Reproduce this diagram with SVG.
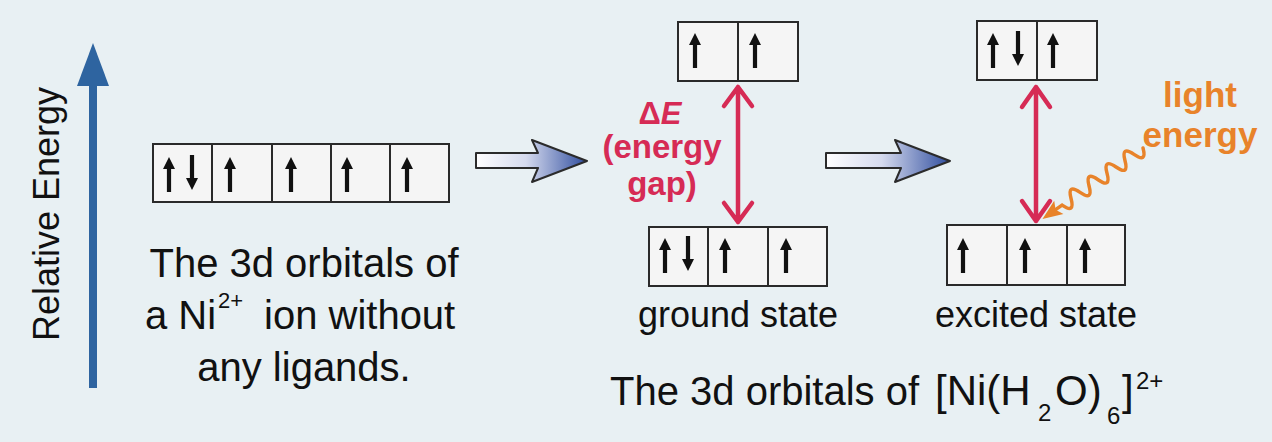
<svg xmlns="http://www.w3.org/2000/svg" xmlns:xlink="http://www.w3.org/1999/xlink" width="1272" height="442" viewBox="0 0 1272 442">
<style>
.box{fill:#f5f5f5;stroke:#2a2a2a;stroke-width:2}
.div{stroke:#2a2a2a;stroke-width:2}
.e{fill:#111}
.txt{font-family:"Liberation Sans",Arial,sans-serif;fill:#111}
.red{fill:#d62b55;font-family:"Liberation Sans",Arial,sans-serif;font-weight:bold}
.org{fill:#e8832a;font-family:"Liberation Sans",Arial,sans-serif;font-weight:bold}
.gap{fill:none;stroke:#d62b55;stroke-width:4.5;stroke-linecap:round;stroke-linejoin:round}
.blk{stroke:#2b2b2b;stroke-width:2;stroke-linejoin:round;fill:url(#bg)}
</style>
<defs>
<linearGradient id="bg" x1="0" y1="0" x2="1" y2="0">
<stop offset="0" stop-color="#ffffff"/>
<stop offset="0.45" stop-color="#d5daee"/>
<stop offset="1" stop-color="#2f4d9e"/>
</linearGradient>
<path id="up" class="e" d="M0,0 L6,12 L2.1,12 L2.1,35 L-2.1,35 L-2.1,12 L-6,12 Z"/>
<path id="dn" class="e" d="M-2.1,0 L2.1,0 L2.1,23 L6,23 L0,35 L-6,23 L-2.1,23 Z"/>
</defs>
<rect x="0" y="0" width="1272" height="442" fill="#e8f0f3"/>

<g id="energy-axis">
<rect x="89" y="82" width="8" height="306" fill="#2e64a0"/>
<polygon points="77,86 93,43 109,86" fill="#2e64a0"/>
<text class="txt" font-size="36" text-anchor="middle" transform="translate(59,214) rotate(-90)">Relative Energy</text>
</g>

<g id="free-ion">
<rect class="box" x="153" y="144" width="296" height="58"/>
<line class="div" x1="212" y1="144" x2="212" y2="202"/>
<line class="div" x1="272" y1="144" x2="272" y2="202"/>
<line class="div" x1="331" y1="144" x2="331" y2="202"/>
<line class="div" x1="390" y1="144" x2="390" y2="202"/>
<use xlink:href="#up" x="169" y="157"/>
<use xlink:href="#dn" x="192" y="155"/>
<use xlink:href="#up" x="230" y="157"/>
<use xlink:href="#up" x="291" y="157"/>
<use xlink:href="#up" x="347" y="157"/>
<use xlink:href="#up" x="407" y="157"/>
<text class="txt" font-size="40" text-anchor="middle" x="304" y="277">The 3d orbitals of</text>
<text class="txt" font-size="40" x="145" y="329">a Ni<tspan font-size="22" x="218" y="308">2+</tspan><tspan x="264" y="329">ion without</tspan></text>
<text class="txt" font-size="40" text-anchor="middle" x="304" y="381">any ligands.</text>
</g>

<g id="ground-state">
<rect class="box" x="678" y="22" width="120" height="59"/>
<line class="div" x1="738" y1="22" x2="738" y2="81"/>
<use xlink:href="#up" x="695" y="33"/>
<use xlink:href="#up" x="755" y="33"/>
<rect class="box" x="649" y="227" width="178" height="59"/>
<line class="div" x1="708" y1="227" x2="708" y2="286"/>
<line class="div" x1="768" y1="227" x2="768" y2="286"/>
<use xlink:href="#up" x="665" y="238"/>
<use xlink:href="#dn" x="688" y="236"/>
<use xlink:href="#up" x="725" y="238"/>
<use xlink:href="#up" x="786" y="238"/>
<text class="txt" font-size="36" text-anchor="middle" x="738" y="327">ground state</text>
<text class="red" font-size="33" text-anchor="middle"><tspan x="660" y="124" font-size="31">Δ<tspan font-style="italic">E</tspan></tspan><tspan x="662" y="158">(energy</tspan><tspan x="662" y="195">gap)</tspan></text>
</g>

<g id="excited-state">
<rect class="box" x="977" y="21" width="120" height="59"/>
<line class="div" x1="1037" y1="21" x2="1037" y2="80"/>
<use xlink:href="#up" x="993" y="33"/>
<use xlink:href="#dn" x="1018" y="31"/>
<use xlink:href="#up" x="1053" y="33"/>
<rect class="box" x="947" y="225" width="178" height="60"/>
<line class="div" x1="1007" y1="225" x2="1007" y2="285"/>
<line class="div" x1="1067" y1="225" x2="1067" y2="285"/>
<use xlink:href="#up" x="963" y="238"/>
<use xlink:href="#up" x="1025" y="238"/>
<use xlink:href="#up" x="1085" y="238"/>
<text class="txt" font-size="36" text-anchor="middle" x="1036" y="327">excited state</text>
<text class="org" font-size="35" text-anchor="middle"><tspan x="1200" y="107">light</tspan><tspan x="1200" y="147">energy</tspan></text>
</g>

<g id="caption">
<text class="txt" font-size="40" x="610" y="405">The 3d orbitals of</text>
<text class="txt" font-size="42" x="935" y="405">[Ni(H<tspan font-size="24" x="1038" y="421">2</tspan><tspan x="1055" y="405">O)</tspan><tspan font-size="24" x="1107" y="424">6</tspan><tspan x="1122" y="405">]</tspan><tspan font-size="24" x="1136" y="389">2+</tspan></text>
</g>

<g id="connectors">
<polygon class="blk" points="476,153 538,153 532,140 587,161 532,182 538,168 476,168"/>
<polygon class="blk" points="826,153 901,153 895,140 950,161 895,182 901,168 826,168"/>
<path class="gap" d="M738,87 L738,222 M724,106 L738,87 L752,106 M724,203 L738,222 L752,203"/>
<path class="gap" d="M1036,87 L1036,221 M1022,107 L1036,87 L1050,107 M1022,201 L1036,221 L1050,201"/>
<g transform="translate(1143,148) rotate(144.8)">
<path d="M0,0 Q5.5,-15 11,0 T22,0 T33,0 T44,0 T55,0 T66,0 T77,0 T88,0 T99,0 L107,0" fill="none" stroke="#e8832a" stroke-width="3.5" stroke-linecap="round"/>
<polygon points="103,-8 123,0 103,8 107,0" fill="#e8832a"/>
</g>
</g>
</svg>
